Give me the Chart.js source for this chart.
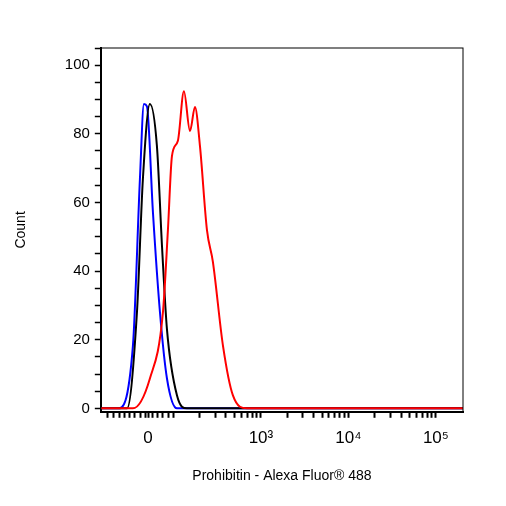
<!DOCTYPE html><html><head><script src="https://cdn.jsdelivr.net/npm/chart.js"></script>
<style>body{margin:0;background:#fff}#w{width:506px;height:506px}</style></head><body><div id="w"><canvas id="c"></canvas></div>
<script>
const blueX=[1.17,1.366,1.537,1.617,1.663,1.697,1.766,1.846,1.926,2.040,5.31];
const blueY=[0,0,18.3,66.9,88.7,88,57,28,8.7,0,0];
const blackX=[1.17,1.469,1.583,1.651,1.731,1.811,1.869,1.926,2.040,2.154,5.31];
const blackY=[0,0,28,66.9,88.7,76.5,47.4,23,3.8,0,0];
const redX=[1.17,1.537,1.731,1.880,1.937,1.983,2.051,2.120,2.189,2.246,2.303,2.383,2.451,2.566,2.680,2.840,5.31];
const redY=[0,0,8.7,28,52,73.5,78,92.4,80.8,87.8,76.5,52,42.7,18.3,3.8,0,0];
const xTickVals=[1.71,3,4,5];
const xTickLabels=['0','10³','10⁴','10⁵'];
const mk=(xs,ys)=>xs.map((x,i)=>({x,y:ys[i]}));
const minors=[1.25,1.32,1.38,1.44,1.5,1.56,1.62,1.68,1.76,1.82,1.88,1.94,2.0,2.3,2.48,2.6,2.7,2.78,2.85,2.9,2.95];
for(let d=3;d<5;d++)for(let k=2;k<10;k++)minors.push(d+Math.log10(k));
new Chart(document.getElementById('c'),{type:'scatter',
data:{datasets:[
{data:mk(redX,redY),borderColor:'#ff0000'},
{data:mk(blackX,blackY),borderColor:'#000000'},
{data:mk(blueX,blueY),borderColor:'#0000ff'}].map(d=>Object.assign(d,{showLine:true,pointRadius:0,borderWidth:2,tension:0.3,cubicInterpolationMode:'monotone'}))},
options:{responsive:true,maintainAspectRatio:false,animation:false,
layout:{padding:{left:9,right:43,top:48,bottom:17}},
plugins:{legend:{display:false},tooltip:{enabled:false}},
scales:{
x:{min:1.17,max:5.31,border:{color:'#000',width:2},grid:{display:true,drawOnChartArea:false,color:'#000',tickLength:6,tickWidth:2},
afterBuildTicks:a=>{a.ticks=xTickVals.concat(minors).map(v=>({value:v}));},
ticks:{color:'#000',font:{family:'Liberation Sans',size:17},padding:10,autoSkip:false,maxRotation:0,
callback:(v)=>{const i=xTickVals.indexOf(v);return i>=0?xTickLabels[i]:'';}},
title:{display:true,text:'Prohibitin - Alexa Fluor® 488',color:'#000',font:{family:'Liberation Sans',size:14},padding:{top:10}}},
y:{min:-1,max:105,border:{color:'#000',width:2},grid:{display:true,drawOnChartArea:false,color:'#000',tickLength:6,tickWidth:1.5},
afterBuildTicks:a=>{const t=[];for(let v=0;v<=105;v+=5)t.push({value:v});a.ticks=t;},
ticks:{color:'#000',font:{family:'Liberation Sans',size:15},padding:5,autoSkip:false,callback:v=>v%20===0?v:''},
title:{display:true,text:'Count',color:'#000',font:{family:'Liberation Sans',size:14},padding:{bottom:30}}}}},
plugins:[{id:'box',afterDraw(c){const a=c.chartArea,x=c.ctx;x.save();x.strokeStyle='#000';x.lineWidth=1;x.strokeRect(a.left,a.top,a.right-a.left,a.bottom-a.top);x.restore();}}]
});
</script></body></html>
